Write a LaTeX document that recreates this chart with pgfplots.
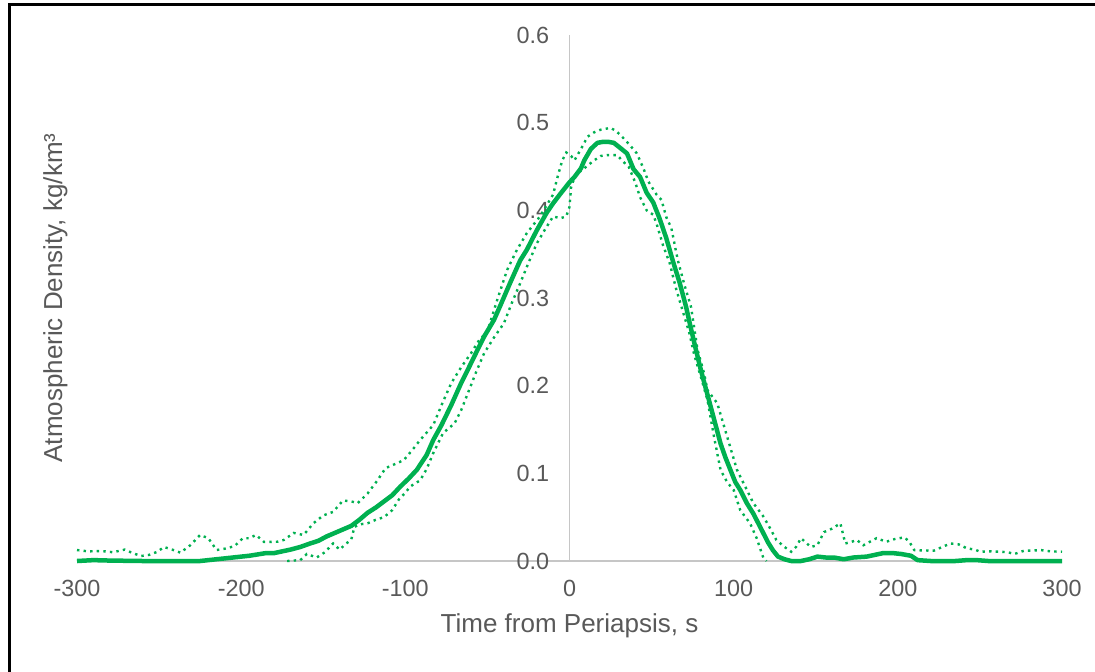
\documentclass[border=0pt]{standalone}
\usepackage{pgfplots}
\pgfplotsset{compat=1.18}
\usepackage{fontspec}
\setmainfont{Liberation Sans}
\definecolor{xlgreen}{HTML}{00B050}
\definecolor{txtgray}{HTML}{595959}
\definecolor{axgray}{HTML}{C6C6C6}
\begin{document}
\begin{tikzpicture}
\path[use as bounding box] (0,0) rectangle (547.5pt,335.5pt);
\draw[line width=1.5pt, black] (4.75pt,-2pt) -- (4.75pt,333.25pt) -- (549pt,333.25pt);
\begin{axis}[
  at={(38.5pt,55pt)}, anchor=south west,
  scale only axis, width=492.5pt, height=263pt,
  xmin=-300, xmax=300, ymin=0, ymax=0.6,
  axis x line=bottom, axis y line=center,
  hide obscured x ticks=false, hide obscured y ticks=false,
  x axis line style={-, draw=axgray, line width=0.9pt},
  y axis line style={-, draw=axgray, line width=0.9pt},
  major tick length=0pt, tick style={draw=none},
  xtick={-300,-200,-100,0,100,200,300},
  xticklabels={-300,-200,-100,0,100,200,300},
  ytick={0,0.1,0.2,0.3,0.4,0.5,0.6},
  yticklabels={0.0,0.1,0.2,0.3,0.4,0.5,0.6},
  ticklabel style={font=\fontsize{11.7}{14}\selectfont, text=txtgray},
  xticklabel style={anchor=north, yshift=-5.8pt},
  yticklabel style={anchor=east, xshift=-6.6pt},
  xlabel={Time from Periapsis, s},
  ylabel={Atmospheric Density, kg/km³},
  label style={font=\fontsize{13}{15}\selectfont, text=txtgray},
  xlabel style={at={(axis description cs:0.5,-0.1236)}, anchor=center},
  ylabel style={at={(axis description cs:-0.0218,0.5)}, anchor=center, rotate=90},
  clip=false,
]
% upper dotted
\addplot[xlgreen, line width=1.2pt, dash pattern=on 1.2pt off 2.1pt] coordinates {
(-300,0.0125) (-293,0.011) (-285,0.0114) (-278,0.010) (-271,0.013) (-266,0.009)
(-261,0.0057) (-256,0.007) (-251,0.0106) (-247,0.016) (-242,0.013) (-237,0.0095)
(-231,0.018) (-225,0.0297) (-220,0.026) (-215,0.0125) (-210,0.014) (-204,0.017)
(-199,0.026) (-195,0.026) (-191,0.0297) (-186,0.0217) (-178,0.022) (-174,0.024)
(-168,0.032) (-162,0.0297) (-156,0.043) (-150,0.052) (-144,0.056) (-138,0.069)
(-133,0.068) (-129,0.066) (-123,0.077) (-117,0.092) (-112,0.106) (-107,0.110)
(-101,0.115) (-96,0.126) (-91,0.138) (-83,0.155) (-77,0.182) (-72,0.203)
(-66,0.221) (-60,0.237) (-55,0.252) (-50,0.262) (-44,0.298) (-38,0.332)
(-32,0.355) (-26,0.374) (-18,0.393) (-10,0.418) (-7,0.440) (-4.4,0.457)
(-2,0.466) (1,0.462) (3,0.457) (7,0.470) (11,0.484) (15,0.489) (19,0.492)
(25,0.494) (28,0.491) (31,0.486) (36,0.476) (41,0.465) (45,0.448) (48,0.433)
(53,0.418) (56,0.412) (59,0.392) (62,0.380) (66,0.343) (70,0.315) (74,0.290)
(78,0.241) (82,0.214) (84,0.195) (90,0.180) (96,0.142) (102,0.104) (107,0.085)
(112,0.066) (118,0.051) (122,0.038) (126,0.024) (131,0.016) (135,0.0106)
(138,0.016) (141,0.026) (147,0.016) (151,0.018) (155,0.033) (160,0.037)
(165,0.043) (168,0.020) (172,0.022) (175,0.024) (179,0.018) (183,0.022)
(187,0.026) (193,0.022) (198,0.025) (204,0.027) (207,0.022) (210,0.0125)
(216,0.012) (222,0.0118) (227,0.016) (232,0.020) (237,0.019) (242,0.0145)
(247,0.013) (250,0.0106) (256,0.011) (262,0.0106) (267,0.010) (271,0.008)
(277,0.0118) (283,0.012) (287,0.0125) (293,0.011) (300,0.0106)
};
% lower dotted
\addplot[xlgreen, line width=1.2pt, dash pattern=on 1.2pt off 2.1pt] coordinates {
(-172,0) (-164,0.001) (-160,0.008) (-157,0.006) (-154,0.004) (-149,0.010)
(-144,0.020) (-140,0.013) (-136,0.020) (-133,0.024) (-131,0.039) (-127,0.042)
(-123,0.043) (-118,0.047) (-113,0.050) (-108,0.058) (-104,0.070) (-100,0.078)
(-97,0.085) (-91,0.092) (-87,0.105) (-83,0.123) (-77,0.146) (-70,0.157)
(-66,0.172) (-62,0.191) (-57,0.215) (-52,0.237) (-46,0.255) (-40,0.271)
(-35,0.295) (-30,0.317) (-25,0.340) (-20,0.362) (-15,0.378) (-10,0.393)
(-5.5,0.391) (-2,0.393) (0,0.404) (1,0.427) (4,0.442) (7,0.445) (11,0.451)
(15,0.457) (19,0.462) (23,0.463) (29,0.463) (33,0.455) (36,0.450) (40,0.432)
(43,0.415) (47,0.400) (51,0.395) (53,0.385) (57,0.360) (61,0.340) (65,0.310)
(69,0.285) (73,0.260) (76,0.235) (80,0.210) (84,0.184) (88,0.142) (92,0.104)
(96,0.090) (100,0.081) (104,0.058) (110,0.043) (114,0.026) (118,0.004) (120,0)
};
% main
\addplot[xlgreen, line width=2.25pt, line join=round] coordinates {
(-300,0) (-290,0.001) (-280,0.0005) (-260,0) (-240,0) (-225,0) (-215,0.002)
(-205,0.004) (-195,0.006) (-185,0.009) (-180,0.009) (-175,0.011) (-170,0.013)
(-164,0.016) (-158,0.020) (-153,0.023) (-148,0.028) (-143,0.032) (-138,0.036)
(-133,0.040) (-128,0.047) (-123,0.055) (-118,0.061) (-113,0.068) (-108,0.075)
(-103,0.085) (-98,0.094) (-93,0.104) (-87,0.121) (-83,0.138) (-78,0.155)
(-72,0.178) (-66,0.203) (-62,0.218) (-56,0.241) (-52,0.256) (-46,0.275)
(-42,0.292) (-36,0.318) (-30,0.343) (-26,0.355) (-20,0.377) (-14,0.397)
(-10,0.408) (-5.5,0.419) (0,0.432) (3,0.438) (7,0.448) (9,0.457) (13,0.470)
(17,0.477) (20,0.478) (24,0.478) (27,0.477) (31,0.471) (35,0.465) (39,0.447)
(43,0.438) (47,0.420) (51,0.409) (55,0.390) (59,0.368) (63,0.342) (67,0.318)
(71,0.290) (74,0.265) (77,0.241) (80,0.218) (83,0.197) (86,0.176) (89,0.155)
(92,0.134) (95,0.118) (98,0.104) (101,0.090) (104,0.081) (108,0.066)
(112,0.054) (115,0.043) (118,0.032) (121,0.021) (124,0.012) (127,0.005)
(131,0.002) (135,0) (141,0) (146,0.002) (151,0.005) (156,0.004) (161,0.004)
(167,0.002) (173,0.004) (181,0.005) (186,0.007) (191,0.009) (197,0.009)
(202,0.008) (208,0.006) (212,0.001) (220,0) (235,0) (242,0.001) (248,0.001)
(255,0) (300,0)
};
\end{axis}
\end{tikzpicture}
\end{document}
